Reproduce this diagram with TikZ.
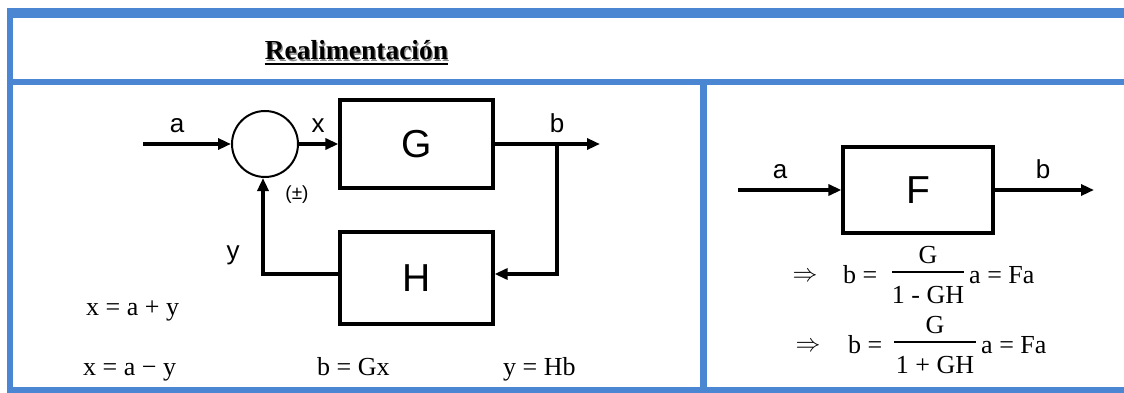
\documentclass[tikz,border=0pt]{standalone}
\usepackage{fontspec}
\setmainfont{Liberation Serif}
\newfontfamily\arialf{Liberation Sans}
\usetikzlibrary{arrows.meta}
\definecolor{frameblue}{RGB}{74,134,210}
\begin{document}
\begin{tikzpicture}[x=1pt,y=-1pt,
  arr/.style={line width=3.2pt,-{Triangle[length=13pt,width=11pt]}},
  blockbox/.style={draw,line width=3.2pt,inner sep=0pt,minimum width=153pt,font=\arialf\fontsize{39}{39}\selectfont},
  sumnode/.style={draw,circle,line width=2pt,minimum size=66pt,inner sep=0pt},
  lbl/.style={font=\arialf\fontsize{26}{26}\selectfont,anchor=base,inner sep=0pt},
  eqtext/.style={font=\fontsize{26}{26}\selectfont,anchor=base west,inner sep=0pt},
  fracpart/.style={font=\fontsize{26}{26}\selectfont,anchor=base,inner sep=0pt},
  impl/.style={font=\fontsize{25}{25}\selectfont,inner sep=0pt},
  fracbar/.style={line width=1.3pt},
  framebar/.style={fill=frameblue}
]
\useasboundingbox (0,0) rectangle (1124,393);
% frame
\fill[framebar] (7,8) rectangle (1124,18);
\fill[framebar] (7,8) rectangle (13,393);
\fill[framebar] (7,79) rectangle (1124,85);
\fill[framebar] (700,79) rectangle (707,393);
\fill[framebar] (7,387) rectangle (1124,393);
% title
\node[font=\bfseries\fontsize{27.5}{27.5}\selectfont,anchor=base,inner sep=0pt,text=black!45] at (357.8,61.3) {Realimentación};
\node[font=\bfseries\fontsize{27.5}{27.5}\selectfont,anchor=base,inner sep=0pt] (title) at (356.5,60) {Realimentación};
\draw[line width=2pt] (title.base west |- 0,64.5) -- (title.base east |- 0,64.5);
% left block diagram
\node[sumnode] (sum) at (265,144) {};
\node[blockbox,minimum height=88pt] (G) at (416.5,144) {G};
\node[blockbox,minimum height=92pt] (H) at (416.5,278) {H};
\coordinate (ain) at (143,144);
\coordinate (bout) at (600,144);
\coordinate (br) at (557,144);
\coordinate (fbr) at (557,274);
\coordinate (fbl) at (263,274);
\draw[arr] (ain) -- (sum.west);
\draw[arr] (sum.east) -- (G.west);
\draw[arr] (G.east) -- (bout);
\draw[arr] (br) -- (fbr) -- (fbr -| H.east);
\draw[arr] (H.west |- fbl) -- (fbl) -- (fbl |- sum.south);
\node[lbl] (la) at (177,132) {a};
\node[lbl] (lx) at (318,132) {x};
\node[lbl] (lb) at (557,132) {b};
\node[lbl] (ly) at (233,259) {y};
\node[font=\arialf\fontsize{19}{19}\selectfont,inner sep=0pt] (pm) at (297,195) {(±)};
% left equations
\node[eqtext] (e1) at (86,315) {x = a + y};
\node[eqtext] (e2) at (83,375) {x = a − y};
\node[eqtext] (e3) at (317,375) {b = Gx};
\node[eqtext] (e4) at (503,375) {y = Hb};
% right block diagram
\node[blockbox,minimum width=150pt,minimum height=86pt] (F) at (918,190) {F};
\coordinate (fin) at (738,190);
\coordinate (fout) at (1094,190);
\draw[arr] (fin) -- (F.west);
\draw[arr] (F.east) -- (fout);
\node[lbl] (ra) at (780,178) {a};
\node[lbl] (rb) at (1043,178) {b};
% right equations
\node[impl] (i1) at (805,277) {$\Rightarrow$};
\node[eqtext] (b1) at (843,283) {b =};
\node[fracpart] (n1) at (928,263) {G};
\draw[fracbar] (892,272) -- (964,272);
\node[fracpart] (d1) at (928,303) {1 - GH};
\node[eqtext] (r1) at (969,283) {a = Fa};
\node[impl] (i2) at (808,347) {$\Rightarrow$};
\node[eqtext] (b2) at (848,353) {b =};
\node[fracpart] (n2) at (935,333) {G};
\draw[fracbar] (894,342) -- (976,342);
\node[fracpart] (d2) at (935,373) {1 + GH};
\node[eqtext] (r2) at (981,353) {a = Fa};
\end{tikzpicture}
\end{document}
